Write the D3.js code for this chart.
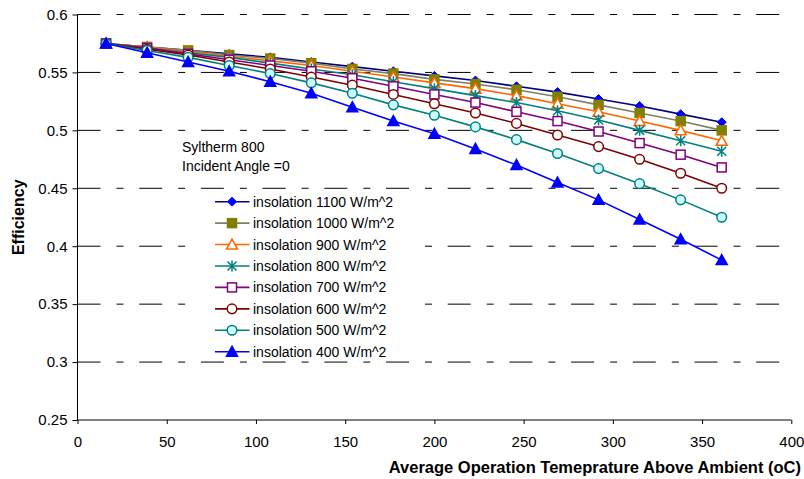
<!DOCTYPE html>
<html>
<head>
<meta charset="utf-8">
<script src="https://cdn.jsdelivr.net/npm/d3@7"></script>
<style>
  body { margin: 0; background: #fff; }
  text { font-family: Arial, "Liberation Sans", sans-serif; }
</style>
</head>
<body>
<script>
// temperatures above ambient (oC)
const temps = [16, 39, 62, 85, 108, 131, 154, 177, 200, 223, 246, 269, 292, 315, 338, 361];

const seriesNames = [
  "insolation 1100 W/m^2", "insolation 1000 W/m^2", "insolation 900 W/m^2", "insolation 800 W/m^2",
  "insolation 700 W/m^2", "insolation 600 W/m^2", "insolation 500 W/m^2", "insolation 400 W/m^2"
];

const eff1100 = [0.575, 0.572, 0.569, 0.566, 0.563, 0.559, 0.555, 0.551, 0.547, 0.543, 0.538, 0.533, 0.527, 0.521, 0.514, 0.507];
const eff1000 = [0.575, 0.572, 0.569, 0.565, 0.562, 0.558, 0.553, 0.549, 0.544, 0.540, 0.535, 0.529, 0.522, 0.515, 0.508, 0.500];
const eff900  = [0.575, 0.572, 0.568, 0.564, 0.560, 0.556, 0.551, 0.546, 0.541, 0.536, 0.530, 0.523, 0.516, 0.508, 0.500, 0.491];
const eff800  = [0.575, 0.571, 0.567, 0.563, 0.558, 0.553, 0.548, 0.542, 0.536, 0.530, 0.524, 0.517, 0.509, 0.500, 0.491, 0.482];
const eff700  = [0.575, 0.571, 0.566, 0.561, 0.556, 0.551, 0.545, 0.538, 0.531, 0.524, 0.516, 0.508, 0.499, 0.489, 0.479, 0.468];
const eff600  = [0.575, 0.570, 0.565, 0.559, 0.553, 0.546, 0.539, 0.531, 0.523, 0.515, 0.506, 0.496, 0.486, 0.475, 0.463, 0.450];
const eff500  = [0.575, 0.569, 0.563, 0.556, 0.549, 0.541, 0.532, 0.522, 0.513, 0.503, 0.492, 0.480, 0.467, 0.454, 0.440, 0.425];
const eff400  = [0.575, 0.567, 0.559, 0.551, 0.542, 0.532, 0.520, 0.508, 0.497, 0.484, 0.470, 0.455, 0.440, 0.423, 0.406, 0.388];

const xTicks = [0, 50, 100, 150, 200, 250, 300, 350, 400];
const yTicks = [0.25, 0.3, 0.35, 0.4, 0.45, 0.5, 0.55, 0.6];

// per series look: line colour, marker shape, marker stroke, marker fill
const styles = [
  { line: "#000080", shape: "diamond",  stroke: "#0000ff", fill: "#0000ff" },
  { line: "#808066", shape: "square",   stroke: "#808000", fill: "#808000" },
  { line: "#ff6600", shape: "triangle", stroke: "#ff6600", fill: "#ffffff" },
  { line: "#008080", shape: "star",     stroke: "#008080", fill: "none" },
  { line: "#800080", shape: "square",   stroke: "#800080", fill: "#ffffff" },
  { line: "#800000", shape: "circle",   stroke: "#800000", fill: "#ffffff" },
  { line: "#008080", shape: "circle",   stroke: "#008080", fill: "#ccffff" },
  { line: "#0000ff", shape: "triangle", stroke: "#0000ff", fill: "#0000ff" }
];

const allSeries = [eff1100, eff1000, eff900, eff800, eff700, eff600, eff500, eff400];

const W = 804, H = 479;
const svg = d3.select("body").append("svg")
  .attr("width", W)
  .attr("height", H);

const x = d3.scaleLinear().domain([0, 400]).range([77.5, 791.3]);
const y = d3.scaleLinear().domain([0.25, 0.6]).range([420, 14.5]);

// dashed gridlines
svg.append("g").selectAll("line")
  .data(yTicks.filter(d => d > 0.25))
  .join("line")
  .attr("x1", x(0)).attr("x2", x(400))
  .attr("y1", d => y(d)).attr("y2", d => y(d))
  .attr("stroke", "#000")
  .attr("stroke-width", 1)
  .attr("stroke-dasharray", "23,16,7,15.7");

// axes
const xAxis = svg.append("g")
  .attr("transform", `translate(0,${y(0.25)})`)
  .call(d3.axisBottom(x).tickValues(xTicks).tickSize(4).tickPadding(12).tickFormat(d3.format("d")));
const yAxis = svg.append("g")
  .attr("transform", `translate(${x(0)},0)`)
  .call(d3.axisLeft(y).tickValues(yTicks).tickSize(5).tickPadding(5).tickFormat(d => String(+d.toFixed(2))));

[xAxis, yAxis].forEach(a => {
  a.select(".domain").attr("stroke", "#000").attr("stroke-width", 1);
  a.selectAll(".tick line").attr("stroke", "#000");
  a.selectAll("text").attr("font-size", 15).attr("fill", "#000")
    .attr("font-family", "Arial, 'Liberation Sans', sans-serif");
});
xAxis.select(".domain").attr("d", `M${x(0)},0H${x(400)}`);
yAxis.select(".domain").attr("d", `M0,${y(0.6)}V${y(0.25)}`);

// marker drawing
function marker(g, shape, st) {
  if (shape === "diamond") {
    g.append("path").attr("d", "M0,-4.5L4.5,0L0,4.5L-4.5,0Z")
      .attr("fill", st.fill).attr("stroke", st.stroke).attr("stroke-width", 1);
  } else if (shape === "square") {
    g.append("rect").attr("x", -4.5).attr("y", -4.5).attr("width", 9).attr("height", 9)
      .attr("fill", st.fill).attr("stroke", st.stroke).attr("stroke-width", 1.5);
  } else if (shape === "triangle") {
    g.append("path").attr("d", "M0,-5.5L5.5,4.5L-5.5,4.5Z")
      .attr("fill", st.fill).attr("stroke", st.stroke).attr("stroke-width", 1.5);
  } else if (shape === "circle") {
    g.append("circle").attr("r", 4.8)
      .attr("fill", st.fill).attr("stroke", st.stroke).attr("stroke-width", 1.5);
  } else if (shape === "star") {
    g.append("path").attr("d", "M0,-5.5V5.5M-4.5,-4.5L4.5,4.5M-4.5,4.5L4.5,-4.5")
      .attr("fill", "none").attr("stroke", st.stroke).attr("stroke-width", 1.5);
  }
}

const line = d3.line().x((d, i) => x(temps[i])).y(d => y(d));

allSeries.forEach((vals, k) => {
  const st = styles[k];
  const g = svg.append("g");
  g.append("path")
    .attr("d", line(vals))
    .attr("fill", "none")
    .attr("stroke", st.line)
    .attr("stroke-width", 1.6);
  vals.forEach((v, i) => {
    const m = g.append("g").attr("transform", `translate(${x(temps[i])},${y(v)})`);
    marker(m, st.shape, st);
  });
});

// annotation
svg.append("text").attr("x", 182).attr("y", 152).attr("font-size", 14).text("Syltherm 800");
svg.append("text").attr("x", 182).attr("y", 171).attr("font-size", 14).text("Incident Angle =0");

// legend (white box hides the gridlines behind it)
const legend = svg.append("g");
legend.append("rect")
  .attr("x", 200).attr("y", 190.5)
  .attr("width", 214).attr("height", 169)
  .attr("fill", "#fff");
seriesNames.forEach((name, k) => {
  const st = styles[k];
  const ly = 201.7 + k * 21.43;
  const row = legend.append("g");
  row.append("line").attr("x1", 215).attr("x2", 249.5).attr("y1", ly).attr("y2", ly)
    .attr("stroke", st.line).attr("stroke-width", 1.6);
  marker(row.append("g").attr("transform", `translate(232,${ly})`), st.shape, st);
  row.append("text").attr("x", 253).attr("y", ly + 5).attr("font-size", 14).text(name);
});

// axis titles
svg.append("text")
  .attr("x", 801).attr("y", 473)
  .attr("text-anchor", "end")
  .attr("font-size", 16.5).attr("font-weight", "bold")
  .text("Average Operation Temeprature Above Ambient (oC)");

svg.append("text")
  .attr("transform", `translate(24,${(y(0.6) + y(0.25)) / 2}) rotate(-90)`)
  .attr("text-anchor", "middle")
  .attr("font-size", 16).attr("font-weight", "bold")
  .text("Efficiency");
</script>
</body>
</html>
